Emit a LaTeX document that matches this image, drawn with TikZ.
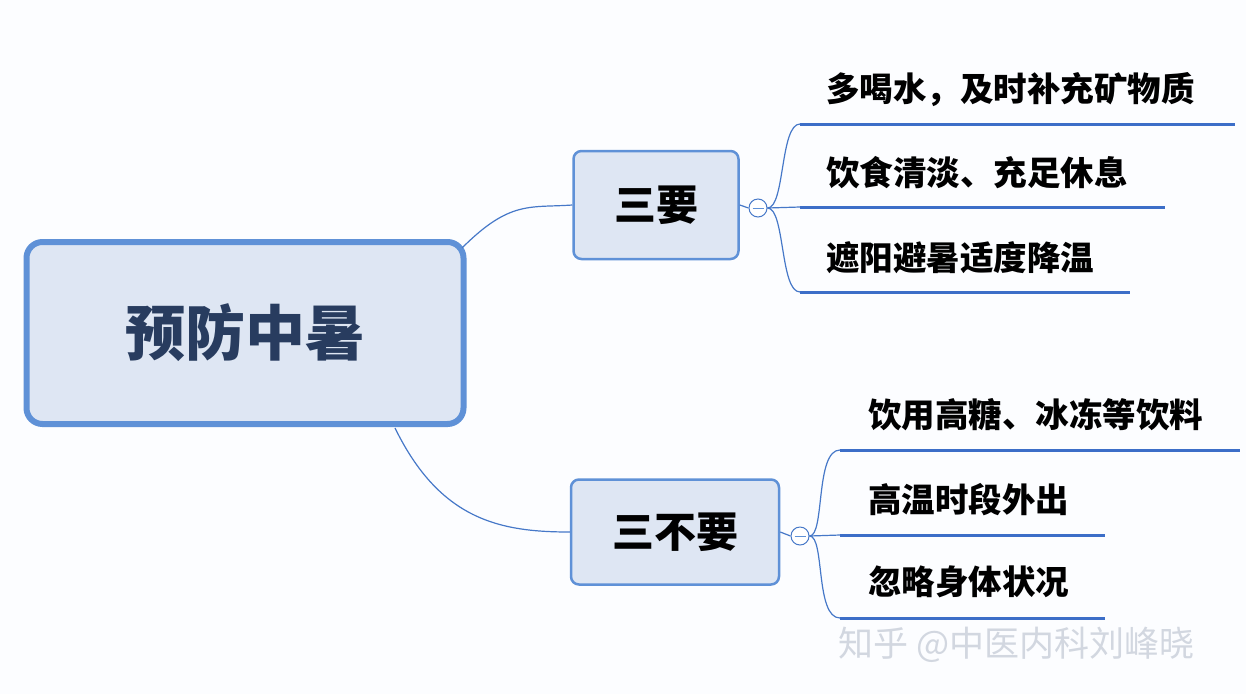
\documentclass[tikz,border=0pt]{standalone}
\usepackage{fontspec}
\newfontfamily\cjk{Noto Sans CJK SC}
\newcommand{\cjkb}{\cjk\bfseries}
\begin{document}
\begin{tikzpicture}[x=1pt,y=-1pt,
  conn/.style={draw={rgb,255:red,70;green,120;blue,200},line width=1.2pt},
  uline/.style={draw={rgb,255:red,60;green,110;blue,200},line width=3pt},
  leaf/.style={anchor=west,font=\cjkb\fontsize{33.5}{33.5}\selectfont,inner sep=0pt},
  tcirc/.style={circle,draw={rgb,255:red,70;green,120;blue,200},fill=white,minimum size=18pt,inner sep=0pt,line width=1pt}]
\definecolor{bd}{RGB}{95,145,215}
\definecolor{tx}{RGB}{40,60,95}
\useasboundingbox[fill={rgb,255:red,252;green,253;blue,255}] (0,0) rectangle (1246,694);
\node[draw=bd,line width=6pt,rounded corners=16pt,fill={rgb,255:red,222;green,230;blue,243},minimum width=437pt,minimum height=182pt,font=\cjkb\fontsize{60}{60}\selectfont,text=tx] (root) at (245,333) {预防中暑};
\node[draw=bd,line width=2.5pt,rounded corners=8pt,fill={rgb,255:red,222;green,230;blue,243},minimum width=165pt,minimum height=108pt,font=\cjkb\fontsize{42}{42}\selectfont,text=black] (a) at (656,205) {三要};
\node[draw=bd,line width=2.5pt,rounded corners=8pt,fill={rgb,255:red,222;green,230;blue,243},minimum width=208pt,minimum height=105pt,font=\cjkb\fontsize{42}{42}\selectfont,text=black] (b) at (675,532) {三不要};
\node[tcirc] (ca) at (758,208) {};
\node[tcirc] (cb) at (800,536) {};
\draw[draw=bd,line width=1pt] ([xshift=4pt]ca.west) -- ([xshift=-4pt]ca.east);
\draw[draw=bd,line width=1pt] ([xshift=4pt]cb.west) -- ([xshift=-4pt]cb.east);
\coordinate (r1) at (462,248); \coordinate (r2) at (395,428);
\draw[conn] (r1) .. controls (510,200) and (530,208) .. (a.west);
\draw[conn] (r2) .. controls (440,520) and (500,532) .. (b.west);
\draw[conn] (a.east) -- (ca.west);
\draw[conn] (b.east) -- (cb.west);
\coordinate (l1s) at (800,124); \coordinate (l1e) at (1235,124);
\coordinate (l2s) at (800,207); \coordinate (l2e) at (1165,207);
\coordinate (l3s) at (800,292); \coordinate (l3e) at (1130,292);
\draw[conn] (ca.east) .. controls (785,208) and (780,124) .. (l1s);
\draw[conn] (ca.east) -- (l2s);
\draw[conn] (ca.east) .. controls (785,208) and (780,292) .. (l3s);
\draw[uline] (l1s) -- (l1e);
\draw[uline] (l2s) -- (l2e);
\draw[uline] (l3s) -- (l3e);
\node[leaf] (t1) at (826,90) {多喝水，及时补充矿物质};
\node[leaf] (t2) at (826,173) {饮食清淡、充足休息};
\node[leaf] (t3) at (826,258) {遮阳避暑适度降温};
\coordinate (m1s) at (840,450); \coordinate (m1e) at (1240,450);
\coordinate (m2s) at (840,535); \coordinate (m2e) at (1105,535);
\coordinate (m3s) at (840,618); \coordinate (m3e) at (1105,618);
\draw[conn] (cb.east) .. controls (825,536) and (815,450) .. (m1s);
\draw[conn] (cb.east) -- (m2s);
\draw[conn] (cb.east) .. controls (825,536) and (815,618) .. (m3s);
\draw[uline] (m1s) -- (m1e);
\draw[uline] (m2s) -- (m2e);
\draw[uline] (m3s) -- (m3e);
\node[leaf] (u1) at (868,415) {饮用高糖、冰冻等饮料};
\node[leaf] (u2) at (868,500) {高温时段外出};
\node[leaf] (u3) at (868,582) {忽略身体状况};
\node[anchor=west,inner sep=0pt,font=\cjk\fontsize{35}{35}\selectfont,text={rgb,255:red,210;green,215;blue,224}] (wm) at (838,645) {知乎 @中医内科刘峰晓};
\end{tikzpicture}
\end{document}
